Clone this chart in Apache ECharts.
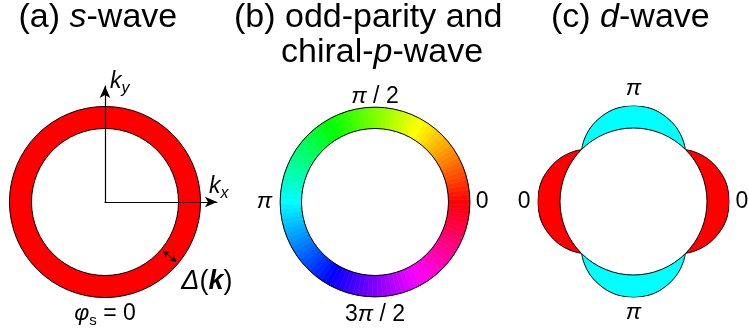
<!DOCTYPE html>
<html>
<head>
<meta charset="utf-8">
<script src="https://cdn.jsdelivr.net/npm/echarts@6/dist/echarts.min.js"></script>
<style>
  html, body { margin: 0; padding: 0; background: #fff; }
  #chart { width: 748px; height: 334px; }
</style>
</head>
<body>
<div id="chart"></div>
<script>
// Gap magnitudes are given in units of the Fermi wave number k_F (Fermi circle = 1).

// (a) s-wave: isotropic gap, single phase
const sGap = 0.3;
const sPhaseLabel = '{p|φ}{s|s}{q| = 0}';

// (b) odd-parity / chiral p-wave: constant |Δ|, phase winds once around the Fermi circle
const pGap = 0.29;
const pPhaseDeg = [0, 3, 6, 9, 12, 15, 18, 21, 24, 27, 30, 33, 36, 39, 42, 45, 48, 51, 54, 57,
  60, 63, 66, 69, 72, 75, 78, 81, 84, 87, 90, 93, 96, 99, 102, 105, 108, 111, 114, 117,
  120, 123, 126, 129, 132, 135, 138, 141, 144, 147, 150, 153, 156, 159, 162, 165, 168, 171, 174, 177,
  180, 183, 186, 189, 192, 195, 198, 201, 204, 207, 210, 213, 216, 219, 222, 225, 228, 231, 234, 237,
  240, 243, 246, 249, 252, 255, 258, 261, 264, 267, 270, 273, 276, 279, 282, 285, 288, 291, 294, 297,
  300, 303, 306, 309, 312, 315, 318, 321, 324, 327, 330, 333, 336, 339, 342, 345, 348, 351, 354, 357];
const pTickDeg = [0, 90, 180, 270];
const pTickLabels = ['0', 'π / 2', 'π', '3π / 2'];

// (c) d-wave: one lobe profile, |Δ| vs. angle measured from the lobe axis
const dLobeOffsetDeg = [-45, -40, -35, -30, -25, -20, -15, -10, -5, 0, 5, 10, 15, 20, 25, 30, 35, 40, 45];
const dLobeGap = [0, 0.06, 0.115, 0.165, 0.205, 0.24, 0.27, 0.29, 0.30, 0.305, 0.30, 0.29, 0.27, 0.24, 0.205, 0.165, 0.115, 0.06, 0];
const dLobeAxisDeg = [0, 90, 180, 270];
const dLobePhase = ['0', 'π', '0', 'π'];
const dLobeColor = ['#ff0000', '#00ffff', '#ff0000', '#00ffff'];

// ---- layout / style ----
const FONT = '"Liberation Sans", Arial, sans-serif';
const KF_PX = 73.5;                  // pixel radius of the Fermi circle
const CENTER_A = [105, 202];
const CENTER_B = [375, 202];
const CENTER_C = [633.5, 201.5];
const dMax = Math.max.apply(null, dLobeGap);
const ARROW_INSET = 0.035;           // keeps the Δ arrow heads just inside the ring edges
const PHASE_STEP = 3;

const txt = (extra) => Object.assign({ fontFamily: FONT, color: '#000', fontSize: 23 }, extra || {});
const ital = (extra) => txt(Object.assign({ fontStyle: 'italic' }, extra || {}));

// turn "3π / 2" into rich tokens, with π set in italics
function richPhase(text, key) {
  return text.split('π').map(s => s ? '{' + key + '|' + s + '}' : '').join('{' + key + 'i|π}');
}
const dirKey = { 0: 'r', 90: 't', 180: 'l', 270: 'b' };

function angleAxisFor(polarIndex, formatter, rich, margin) {
  return {
    polarIndex, type: 'value', min: 0, max: 360, interval: 90,
    startAngle: 0, clockwise: false,
    axisLine: { show: false }, axisTick: { show: false }, splitLine: { show: false },
    axisLabel: { show: true, margin, formatter, rich, fontFamily: FONT, color: '#000', fontSize: 23 }
  };
}
function radiusAxisFor(polarIndex, max) {
  return { polarIndex, type: 'value', min: 0, max, show: false,
    axisLine: { show: false }, axisTick: { show: false }, axisLabel: { show: false }, splitLine: { show: false } };
}

const bRich = {
  r: txt({ padding: [0, 0, 0, 2] }), ri: ital({ padding: [0, 0, 0, 2] }),
  t: txt({ lineHeight: 13 }), ti: ital({ lineHeight: 13 }),
  l: txt({ padding: [0, 4, 0, 0] }), li: ital({ padding: [0, 4, 0, 0] }),
  b: txt({ lineHeight: 27 }), bi: ital({ lineHeight: 27 })
};
const cRich = {
  r: txt({ padding: [0, 0, 0, 2] }), ri: ital({ padding: [0, 0, 0, 2] }),
  t: txt({ lineHeight: 26 }), ti: ital({ lineHeight: 26 }),
  l: txt({ padding: [0, 3, 0, 0] }), li: ital({ padding: [0, 3, 0, 0] }),
  b: txt({ lineHeight: 22 }), bi: ital({ lineHeight: 22 })
};
const aRich = {
  p: ital({ fontSize: 23, lineHeight: 23, verticalAlign: 'bottom', padding: [0, 0, 3, 0] }),
  s: txt({ fontSize: 15, lineHeight: 15, verticalAlign: 'bottom' }),
  q: txt({ fontSize: 23, lineHeight: 23, verticalAlign: 'bottom', padding: [0, 0, 3, 0] })
};
const kRich = {
  k: ital({ fontSize: 23, lineHeight: 23, verticalAlign: 'bottom', padding: [0, 0, 4, 0] }),
  s: ital({ fontSize: 16, lineHeight: 16, verticalAlign: 'bottom' })
};
const titleRich = { i: ital({ fontSize: 34 }) };
const titleStyle = { fontFamily: FONT, fontSize: 34, fontWeight: 'normal', color: '#000', rich: titleRich };

const hue = d => 'hsl(' + d + ',100%,50%)';

const series = [];

// (a) s-wave ring
series.push({
  type: 'pie', center: CENTER_A, radius: [KF_PX, KF_PX * (1 + sGap)], z: 2,
  silent: true, label: { show: false }, labelLine: { show: false },
  data: [{ value: 1, itemStyle: { color: '#ff0000', borderColor: '#000', borderWidth: 1 } }]
});
// (a) gap arrow Δ(k)
series.push({
  type: 'line', coordinateSystem: 'polar', polarIndex: 0, data: [], z: 6,
  markLine: {
    silent: true, symbol: ['arrow', 'arrow'], symbolSize: [5, 6],
    lineStyle: { color: '#000', width: 1, type: 'solid' },
    label: {
      show: true, position: 'end', distance: [40, 31],
      formatter: '{d|Δ}{p|(}{k|k}{p|)}',
      rich: { d: ital({ fontSize: 27 }), p: txt({ fontSize: 27 }), k: ital({ fontSize: 27, fontWeight: 'bold' }) }
    },
    emphasis: { disabled: true },
    data: [[{ coord: [1 + ARROW_INSET, 320] }, { coord: [1 + sGap - ARROW_INSET, 320] }]]
  }
});

// (b) phase wheel
series.push({
  type: 'pie', center: CENTER_B, radius: [KF_PX, KF_PX * (1 + pGap)], z: 2,
  startAngle: -PHASE_STEP / 2, clockwise: false, silent: true,
  label: { show: false }, labelLine: { show: false },
  data: pPhaseDeg.map(d => ({ name: String(d), value: 1,
    itemStyle: { color: hue(d), borderColor: hue(d), borderWidth: 0.6 } }))
});
series.push({
  type: 'pie', center: CENTER_B, radius: [KF_PX, KF_PX * (1 + pGap)], z: 3, silent: true,
  label: { show: false }, labelLine: { show: false },
  data: [{ value: 1, itemStyle: { color: 'rgba(0,0,0,0)', borderColor: '#000', borderWidth: 1 } }]
});

// (c) d-wave lobes
dLobeAxisDeg.forEach((axisDeg, j) => {
  series.push({
    type: 'line', coordinateSystem: 'polar', polarIndex: 2, z: 2, clip: false,
    smooth: 0.3, symbol: 'none', silent: true,
    lineStyle: { color: '#000', width: 1 },
    areaStyle: { color: dLobeColor[j], opacity: 1 },
    data: dLobeOffsetDeg.map((o, i) => [1 + dLobeGap[i], axisDeg + o])
  });
});
series.push({
  type: 'pie', center: CENTER_C, radius: [0, KF_PX], z: 5, silent: true,
  label: { show: false }, labelLine: { show: false },
  data: [{ value: 1, itemStyle: { color: '#fff', borderColor: '#000', borderWidth: 1 } }]
});

const axisArrow = {
  show: true, onZero: false, symbol: ['none', 'arrow'], symbolSize: [8, 12],
  lineStyle: { color: '#000', width: 1.2 }
};

const option = {
  animation: false,
  backgroundColor: '#fff',
  title: [
    { text: '(a) {i|s}-wave', left: 18.5, top: 1, padding: 0, textStyle: titleStyle },
    { text: '(b) odd-parity and', left: 234, top: 1, padding: 0, textStyle: titleStyle },
    { text: 'chiral-{i|p}-wave', left: 281, top: 36, padding: 0, textStyle: titleStyle },
    { text: '(c) {i|d}-wave', left: 551, top: 1, padding: 0, textStyle: titleStyle }
  ],
  polar: [
    { center: CENTER_A, radius: KF_PX * (1 + sGap) },
    { center: CENTER_B, radius: KF_PX * (1 + pGap) },
    { center: CENTER_C, radius: KF_PX * (1 + dMax) }
  ],
  radiusAxis: [radiusAxisFor(0, 1 + sGap), radiusAxisFor(1, 1 + pGap), radiusAxisFor(2, 1 + dMax)],
  angleAxis: [
    angleAxisFor(0, v => (v === 270 ? sPhaseLabel : ''), aRich, 8),
    angleAxisFor(1, v => {
      const i = pTickDeg.indexOf(v);
      return i < 0 ? '' : richPhase(pTickLabels[i], dirKey[v]);
    }, bRich, 4),
    angleAxisFor(2, v => {
      const i = dLobeAxisDeg.indexOf(v);
      return i < 0 ? '' : richPhase(dLobePhase[i], dirKey[v]);
    }, cRich, 4)
  ],
  // k_x / k_y axes of panel (a), starting at the centre of the Fermi circle
  grid: [{ left: CENTER_A[0], top: 86, width: 112, height: CENTER_A[1] - 86 }],
  xAxis: [{
    type: 'value', gridIndex: 0, min: 0, max: 1, zlevel: 1, z: 10,
    axisLine: axisArrow,
    axisTick: { show: false }, axisLabel: { show: false }, splitLine: { show: false },
    name: '{k|k}{s|x}', nameLocation: 'end', nameGap: -8,
    nameTextStyle: { align: 'left', verticalAlign: 'bottom', rich: kRich, padding: [0, 0, 0, 0] }
  }],
  yAxis: [{
    type: 'value', gridIndex: 0, min: 0, max: 1, zlevel: 1, z: 10,
    axisLine: axisArrow,
    axisTick: { show: false }, axisLabel: { show: false }, splitLine: { show: false },
    name: '{k|k}{s|y}', nameLocation: 'end', nameGap: 12,
    nameTextStyle: { align: 'left', verticalAlign: 'top', rich: kRich, padding: [0, 0, 0, 5] }
  }],
  series
};

const chart = echarts.init(document.getElementById('chart'), null, { renderer: 'canvas' });
chart.setOption(option);
</script>
</body>
</html>
